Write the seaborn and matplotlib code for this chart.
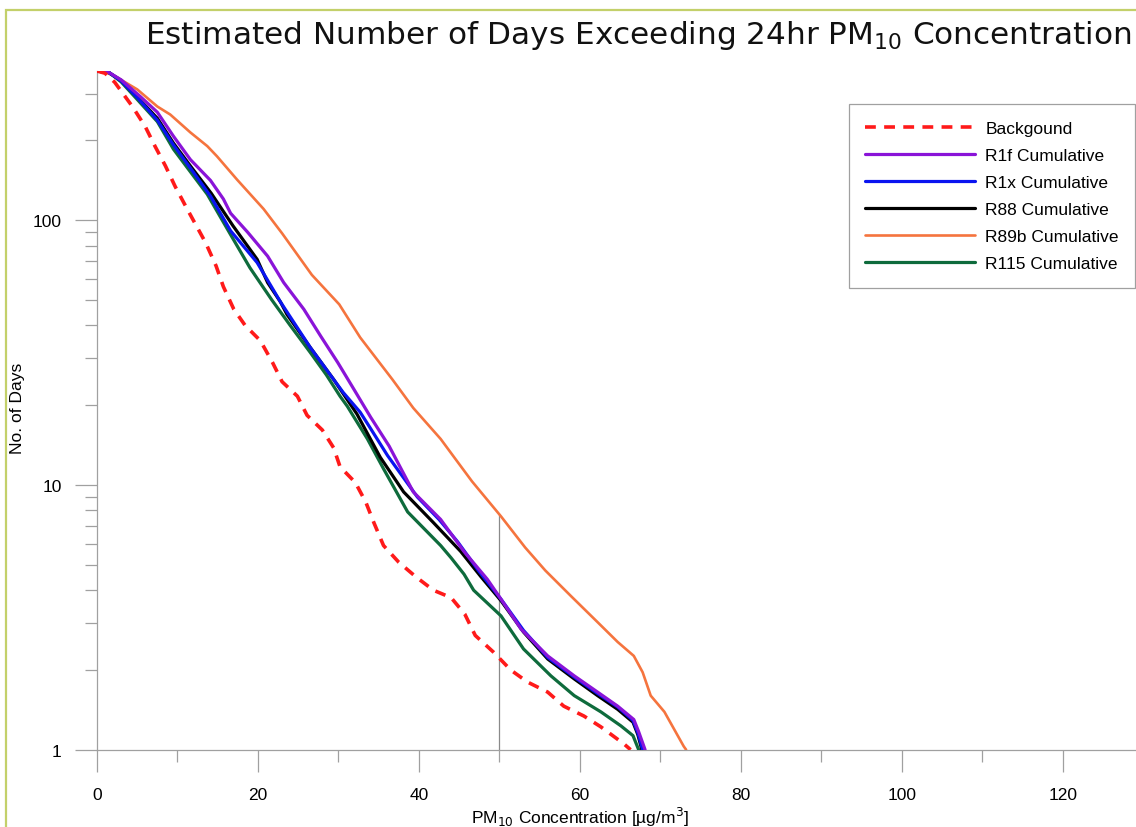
import numpy as np
import pandas as pd
import matplotlib
matplotlib.use("Agg")
import matplotlib.pyplot as plt
import matplotlib.ticker as mticker
from matplotlib.patches import Rectangle
import seaborn as sns

# ---------------- data ----------------
bg_x = [0, 1, 2.2, 4.4, 6.0, 7.2, 8.5, 9.7, 11.2, 13.5, 14.8, 15.7, 17.0, 18.4, 20.3, 21.8,
        23.0, 24.9, 26.1, 28.0, 29.4, 30.2, 32.1, 33.4, 34.4, 35.6, 37.5, 39.6, 41.8, 44.0,
        45.7, 47.0, 49.3, 51.4, 53.5, 56.0, 58.0, 60.5, 62.6, 65.5, 66.3]
bg_y = [365, 358, 331, 268, 225, 190, 160, 134, 110, 82, 67, 56, 46, 40, 35, 29,
        24.5, 21.6, 18.3, 16.1, 13.8, 11.7, 10.2, 8.6, 7.2, 5.9, 5.1, 4.5, 4.0, 3.75,
        3.25, 2.7, 2.33, 2.0, 1.8, 1.65, 1.46, 1.34, 1.22, 1.05, 1.0]

r1f_x = [0, 1.5, 3.0, 5.4, 7.5, 9.5, 11.6, 14.1, 15.7, 16.6, 18.7, 21.2, 23.2, 25.7, 27.8,
         29.9, 31.9, 34.0, 36.3, 39.3, 42.7, 45.6, 48.5, 50.2, 52.7, 56.0, 59.3, 62.2,
         64.7, 66.7, 67.3, 68.1]
r1f_y = [365, 360, 338, 292, 255, 207, 169, 141, 120, 106, 90, 73, 58, 46, 36.4,
         29, 23, 18.0, 14.0, 9.4, 7.4, 5.6, 4.4, 3.7, 2.85, 2.26, 1.9, 1.65,
         1.46, 1.3, 1.17, 1.0]

r1x_x = [0, 1.5, 3.0, 5.0, 7.5, 9.5, 11.6, 14.1, 16.6, 19.9, 22.8, 26.5, 29.4, 30.6, 32.7,
         34.0, 36.1, 39.8, 42.5, 44.8, 47.5, 50.2, 53.0, 56.0, 59.3, 62.2, 64.7, 66.6,
         67.2, 67.8]
r1x_y = [365, 360, 335, 290, 238, 192, 157, 123, 91, 69, 49, 33, 25, 22.3, 18.8,
         16.3, 12.9, 9.0, 7.4, 6.1, 4.7, 3.7, 2.82, 2.23, 1.88, 1.63, 1.45, 1.29,
         1.16, 1.0]

r88_x = [0, 1.5, 3.0, 5.0, 7.5, 9.5, 11.6, 14.2, 16.9, 19.9, 21.2, 22.8, 23.6, 26.5, 29.4,
         32.3, 35.2, 38.1, 41.8, 45.2, 47.7, 50.2, 53.0, 56.0, 59.3, 62.2, 64.7, 66.6,
         67.2, 67.7]
r88_y = [365, 360, 336, 291, 242, 195, 160, 126, 95, 71, 58, 49, 44, 33, 25,
         18.5, 12.7, 9.4, 7.2, 5.6, 4.5, 3.65, 2.78, 2.2, 1.85, 1.6, 1.42, 1.27,
         1.14, 1.0]

r89b_x = [0, 1, 2.5, 5.0, 7.5, 9.1, 11.6, 13.7, 14.9, 17.4, 20.7, 23.0, 26.7, 30.1, 32.7,
          36.7, 39.3, 42.7, 44.3, 46.6, 50.2, 53.2, 55.7, 58.9, 62.2, 64.7, 66.7,
          67.8, 68.8, 70.5, 72.9, 73.2]
r89b_y = [365, 362, 345, 311, 268, 250, 214, 190, 174, 142, 110, 89, 62, 48, 36,
          25, 19.5, 14.9, 12.8, 10.3, 7.6, 5.8, 4.75, 3.8, 3.03, 2.55, 2.26,
          1.96, 1.6, 1.39, 1.03, 1.0]

r115_x = [0, 1.5, 3.0, 5.0, 7.5, 9.5, 11.6, 13.7, 16.6, 19.0, 21.7, 24.0, 26.5, 28.5, 30.2,
          31.1, 33.6, 35.6, 38.6, 42.7, 44.0, 45.6, 46.8, 50.2, 53.0, 56.4, 59.3, 62.6,
          65.1, 66.6, 67.3]
r115_y = [365, 360, 332, 285, 235, 185, 152, 125, 88, 66, 50, 40, 31.6, 26, 21.6,
          19.8, 14.9, 11.5, 7.9, 5.9, 5.3, 4.6, 4.0, 3.2, 2.4, 1.9, 1.6, 1.39,
          1.23, 1.13, 1.0]

series_names = ["Backgound", "R1f Cumulative", "R1x Cumulative", "R88 Cumulative",
                "R89b Cumulative", "R115 Cumulative"]
series_x = [bg_x, r1f_x, r1x_x, r88_x, r89b_x, r115_x]
series_y = [bg_y, r1f_y, r1x_y, r88_y, r89b_y, r115_y]

x_major_ticks = [0, 20, 40, 60, 80, 100, 120]
y_major_ticks = [1, 10, 100]
threshold = 50

title_text = "Estimated Number of Days Exceeding 24hr PM$_{10}$ Concentration"
xlabel_text = "PM$_{10}$ Concentration [µg/m$^{3}$]"
ylabel_text = "No. of Days"

# ---------------- styling ----------------
colors = ["#ff1a1a", "#8a14d8", "#0a14f0", "#000000", "#f5743e", "#0e6b3c"]
widths = [2.6, 2.3, 2.3, 2.3, 1.9, 2.3]
zorders = [7, 6, 5, 4, 3, 3.5]

sns.set_theme(style="white")
plt.rcParams["font.family"] = ["Liberation Sans", "DejaVu Sans"]
plt.rcParams["mathtext.fontset"] = "dejavusans"

fig = plt.figure(figsize=(11.36, 8.28), dpi=100)
fig.patch.set_facecolor("white")
ax = fig.add_axes([97 / 1136, 1 - 750.7 / 828, 1 - 97 / 1136, (750.7 - 72) / 828])
ax.set_facecolor("white")

for name, xs, ys, c, w, z in zip(series_names, series_x, series_y, colors, widths, zorders):
    df = pd.DataFrame({"x": xs, "y": ys})
    kw = {}
    if name == "Backgound":
        kw["linestyle"] = (0, (3.0, 2.3))
    sns.lineplot(data=df, x="x", y="y", ax=ax, color=c, linewidth=w, label=name,
                 sort=False, estimator=None, zorder=z, **kw)

ax.set_yscale("log")
ax.set_xlim(0, 129.1)
ax.set_ylim(1, 365)

# vertical guide line at the threshold, up to the R89b curve
top_val = 10 ** np.interp(threshold, r89b_x, np.log10(r89b_y))
ax.plot([threshold, threshold], [1, top_val], color="#8a8a8a", lw=0.9, zorder=2)

ax.xaxis.set_major_locator(mticker.FixedLocator(x_major_ticks))
ax.xaxis.set_minor_locator(mticker.MultipleLocator(10))
ax.yaxis.set_major_locator(mticker.FixedLocator(y_major_ticks))
ax.yaxis.set_major_formatter(mticker.FuncFormatter(lambda v, p: f"{v:g}"))
ax.yaxis.set_minor_locator(mticker.LogLocator(base=10, subs=np.arange(2, 10)))
ax.yaxis.set_minor_formatter(mticker.NullFormatter())

for s in ["top", "right"]:
    ax.spines[s].set_visible(False)
for s in ["left", "bottom"]:
    ax.spines[s].set_color("#a0a0a0")
    ax.spines[s].set_linewidth(0.9)

ax.tick_params(which="both", direction="out", color="#a0a0a0", width=0.9,
               labelsize=12.5, labelcolor="black")
ax.tick_params(which="major", length=16)
ax.tick_params(which="minor", length=8.6)
ax.tick_params(axis="x", which="both", pad=11, bottom=True)
ax.tick_params(axis="y", which="both", pad=9.4, left=True)

ax.set_xlabel(xlabel_text, fontsize=12.5, color="black")
ax.set_ylabel(ylabel_text, fontsize=12.5, color="black")
ax.xaxis.set_label_coords((580 - 97) / 1039, (750.7 - 806) / 678.7)
ax.yaxis.label.set_verticalalignment("center")
ax.yaxis.label.set_horizontalalignment("center")
ax.yaxis.set_label_coords((18 - 97) / 1039, (750.7 - 408) / 678.7)

leg = ax.legend(loc="upper left", bbox_to_anchor=((849 - 97) / 1039, (750.7 - 105) / 678.7),
                fontsize=12.5, frameon=True, fancybox=False, framealpha=1,
                edgecolor="#a0a0a0", handlelength=6.3, handletextpad=0.6,
                labelspacing=0.69, borderpad=0.95, borderaxespad=0)
leg.get_frame().set_linewidth(0.9)
for t in leg.get_texts():
    t.set_color("black")

fig.text(145 / 1136, 1 - 44 / 828, title_text, fontsize=22.4, family="DejaVu Sans",
         ha="left", va="baseline", color="#111111")

fig.patches.append(Rectangle((6 / 1136, -0.2), 1.5, 1.2 - 11 / 828, transform=fig.transFigure,
                             fill=False, edgecolor="#c3d06a", linewidth=1.6))

fig.savefig("out.png", dpi=100, facecolor="white")
